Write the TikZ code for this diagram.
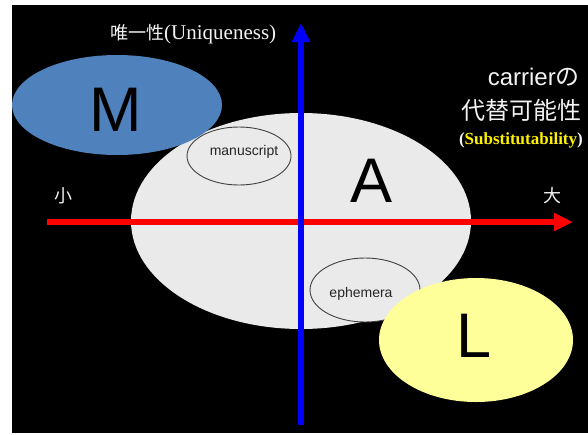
\documentclass[tikz,border=0pt]{standalone}
\usepackage{fontspec}
\setmainfont{Liberation Sans}
\newfontfamily\cjk{Noto Sans CJK JP}
\newfontfamily\serifjp{Liberation Serif}
\usetikzlibrary{shapes.geometric,arrows.meta}
\definecolor{bgray}{HTML}{EAEAEA}
\definecolor{mblue}{HTML}{4F81BD}
\definecolor{lyellow}{HTML}{FFFF99}
\definecolor{outl}{HTML}{404040}
\definecolor{txtw}{HTML}{F2F2F2}
\tikzset{
  blob/.style={ellipse, inner sep=0pt},
  small/.style={blob, draw=outl, line width=0.9pt, fill=bgray},
  bigletter/.style={font=\fontsize{63}{63}\selectfont, text=black},
  smalltxt/.style={font=\fontsize{14}{14}\selectfont, text=black!85},
  lab/.style={text=txtw, inner sep=0pt},
  axis/.style={line width=6pt, -{Triangle[length=19pt,width=17pt]}}
}
\begin{document}
\begin{tikzpicture}[x=1pt,y=-1pt]
\useasboundingbox (0,0) rectangle (588,434);
\fill[black] (12,5) rectangle (588,433);
% big grey ellipse
\node[blob, fill=bgray, minimum width=340pt, minimum height=216pt] (A) at (301,221) {};
\node[bigletter] at (372,181) {A};
% small ellipses
\node[small, minimum width=104pt, minimum height=58pt] (ms) at (239,156) {};
\node[smalltxt] at (244,152) {manuscript};
\node[small, minimum width=110pt, minimum height=64pt] (eph) at (365,290) {};
\node[smalltxt] at (361,294) {ephemera};
% M and L
\node[blob, fill=mblue, minimum width=210pt, minimum height=100pt] (M) at (117,105) {};
\node[bigletter] at (116,110) {M};
\node[blob, fill=lyellow, minimum width=194pt, minimum height=124pt] (L) at (476,340) {};
\node[bigletter] at (474,336) {L};
% axes
\coordinate (xs) at (47,222);
\coordinate (xe) at (573,222);
\coordinate (ys) at (301,425);
\coordinate (ye) at (301,23);
\draw[axis, red] (xs) -- (xe);
\draw[axis, blue] (ys) -- (ye);
% labels
\node[lab, anchor=west] (uq) at (110,34) {\fontsize{18}{18}\selectfont\cjk 唯一性\serifjp\fontsize{21}{21}\selectfont(Uniqueness)};
\node[lab] (small) at (63,196) {\fontsize{18}{18}\selectfont\cjk 小};
\node[lab] (large) at (552,196) {\fontsize{18}{18}\selectfont\cjk 大};
\node[lab, anchor=east] (car) at (580,77) {\fontsize{24}{24}\selectfont carrier{\cjk の}};
\node[lab, anchor=east] (sub) at (582,110) {\fontsize{24}{24}\selectfont\cjk 代替可能性};
\node[lab, anchor=east] (st) at (583,140) {\fontsize{17}{17}\selectfont\serifjp\bfseries (\textcolor{yellow}{Substitutability})};
\end{tikzpicture}
\end{document}
